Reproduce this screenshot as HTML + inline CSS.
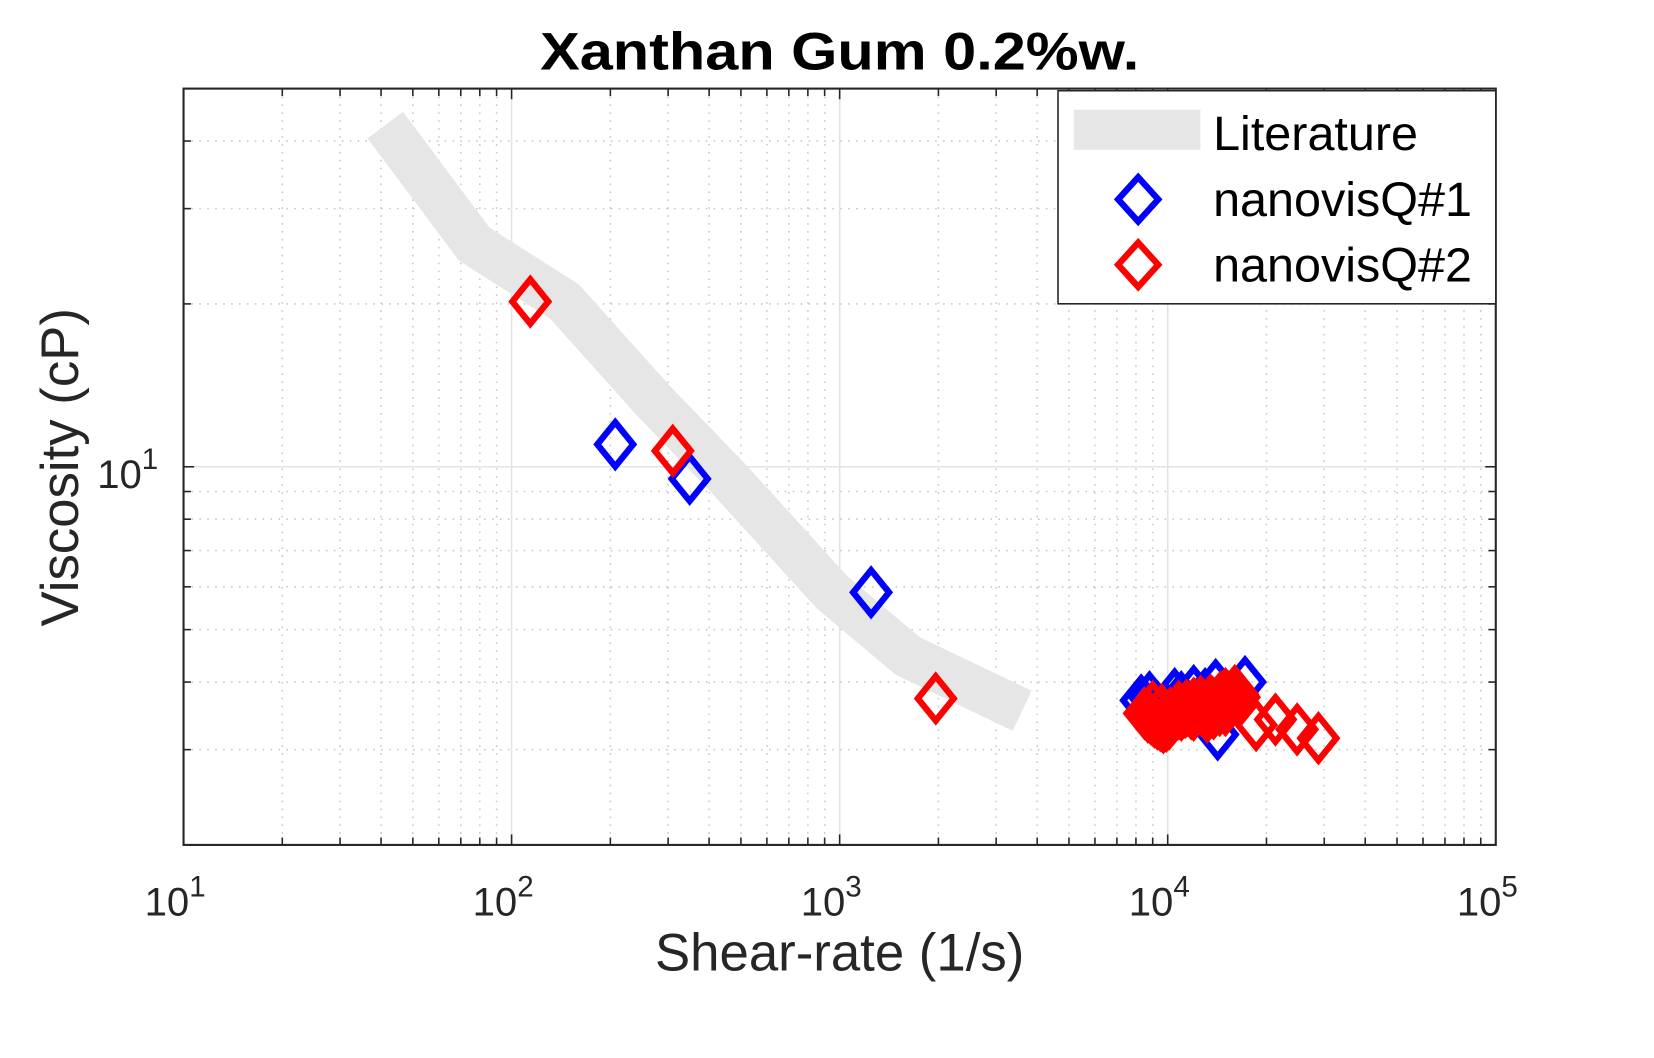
<!DOCTYPE html>
<html><head><meta charset="utf-8"><style>
html,body{margin:0;padding:0;background:#fff;}
svg{display:block;font-family:"Liberation Sans",sans-serif;}
</style></head><body>
<svg id="chart" width="1654" height="1058" viewBox="0 0 1568 1003" preserveAspectRatio="none" xmlns="http://www.w3.org/2000/svg">
<rect width="1568" height="1003" fill="#fff"/>
<g id="grid"></g>
<g id="lit"></g>
<g id="s1"></g>
<g id="s2"></g>
<g id="axes"></g>
<text x="512" y="66" font-size="50" font-weight="bold" textLength="568" lengthAdjust="spacingAndGlyphs">Xanthan Gum 0.2%w.</text>
<text x="796" y="920" font-size="50" text-anchor="middle" fill="#262626">Shear-rate (1/s)</text>
<text transform="translate(74,443) rotate(-90)" font-size="50" text-anchor="middle" fill="#262626">Viscosity (cP)</text>
<g id="legend">
<rect x="1003" y="86" width="415" height="202" fill="#fff" stroke="#262626" stroke-width="1.5"/>
<rect x="1018" y="104" width="120" height="38" fill="#e6e6e6"/>
<text x="1150" y="142" font-size="46" fill="#000">Literature</text>
<path d="M1079,168 L1098,189 L1079,210 L1060,189 Z" fill="none" stroke="#0000ff" stroke-width="6"/>
<text x="1150" y="205" font-size="46">nanovisQ#1</text>
<path d="M1079,230 L1098,251 L1079,272 L1060,251 Z" fill="none" stroke="#ff0000" stroke-width="6"/>
<text x="1150" y="267" font-size="46">nanovisQ#2</text>
</g>
</svg>
<script>
const litX=[41.2,76.9,145,272,452,946,1612,3600];
const litY=[42.8,25.8,20.2,13.2,9.6,5.87,4.47,3.54];
const q1X=[207,349,1247,8300,8800,9300,10000,10500,11000,12000,13000,14000,14200,17200];
const q1Y=[11.0,9.5,5.86,3.7,3.75,3.6,3.55,3.8,3.75,3.85,3.8,3.95,3.2,4.0];
const q2X=[114,310,1963,8500,8700,8900,9100,9300,9500,9700,9900,10100,10300,10500,10800,11000,11300,11500,11800,12000,12300,12500,12800,13000,13300,13500,13800,14000,14300,14500,14800,15000,15300,15500,15800,16000,16300,16500,9000,9600,10200,10800,11400,12000,12600,13200,13800,14400,15000,18600,21300,24800,28800];
const q2Y=[20.2,10.7,3.73,3.5,3.45,3.42,3.38,3.35,3.33,3.3,3.32,3.35,3.4,3.45,3.5,3.48,3.52,3.55,3.5,3.48,3.55,3.6,3.58,3.55,3.62,3.7,3.65,3.6,3.7,3.75,3.72,3.8,3.75,3.7,3.78,3.85,3.8,3.75,3.6,3.55,3.5,3.6,3.62,3.65,3.68,3.45,3.5,3.55,3.55,3.33,3.41,3.27,3.15];
const xTicks=[10,100,1000,10000,100000];
const xTickExp=['1','2','3','4','5'];
const yTicks=[10];
const yTickExp=['1'];
const X0=174,X1=1418,Y0=801,Y1=84,xmin=10,xmax=1e5,ymin=2,ymax=50;
const NS='http://www.w3.org/2000/svg';
function sx(v){return X0+(Math.log10(v)-Math.log10(xmin))/(Math.log10(xmax)-Math.log10(xmin))*(X1-X0);}
function sy(v){return Y0-(Math.log10(v)-Math.log10(ymin))/(Math.log10(ymax)-Math.log10(ymin))*(Y0-Y1);}
function mk(tag,attrs,parent){const e=document.createElementNS(NS,tag);for(const k in attrs)e.setAttribute(k,attrs[k]);parent.appendChild(e);return e;}
const grid=document.getElementById('grid'),axes=document.getElementById('axes');
for(let d=1;d<5;d++){for(let m=1;m<10;m++){const v=m*Math.pow(10,d);if(v<=xmin&&m!==1)continue;const x=sx(v);
 const major=(m===1);
 const g=mk('line',{x1:x,x2:x,y1:Y1,y2:Y0,stroke:major?'#e3e3e3':'#c8c8c8','stroke-width':1.5,'stroke-dasharray':major?'':'1.5 6'},grid);
 
 
 const L=major?10:7;
 const t1=mk('line',{x1:x,x2:x,y1:Y0,y2:Y0-L,stroke:'#262626','stroke-width':1.5},axes);
 
 
 const t2=mk('line',{x1:x,x2:x,y1:Y1,y2:Y1+L,stroke:'#262626','stroke-width':1.5},axes);
 
 
}}
for(let m=2;m<=50;m++){let v; if(m<10)v=m; else if(m%10===0)v=m; else continue; if(v<=ymin||v>=ymax)continue;const y=sy(v);
 const major=(v===10);
 const g=mk('line',{x1:X0,x2:X1,y1:y,y2:y,stroke:major?'#e3e3e3':'#c8c8c8','stroke-width':1.5,'stroke-dasharray':major?'':'1.5 6'},grid);
 
 
 const L=major?10:7;
 const t1=mk('line',{x1:X0,x2:X0+L,y1:y,y2:y,stroke:'#262626','stroke-width':1.5},axes);
 
 
 const t2=mk('line',{x1:X1,x2:X1-L,y1:y,y2:y,stroke:'#262626','stroke-width':1.5},axes);
 
 
}
const box=mk('rect',{x:X0,y:Y1,width:X1-X0,height:Y0-Y1,fill:'none',stroke:'#262626','stroke-width':2},axes);


xTicks.forEach((v,i)=>{const t=mk('text',{x:sx(v)-8,y:868,'font-size':38,'text-anchor':'middle',fill:'#262626'},axes);
 
 
 t.textContent='10';
 const s=mk('tspan',{dy:-18,'font-size':28},t);s.textContent=xTickExp[i];});
yTicks.forEach((v,i)=>{const t=mk('text',{x:150,y:sy(v)+20,'font-size':38,'text-anchor':'end',fill:'#262626'},axes);
 
 
 t.textContent='10';
 const s=mk('tspan',{dy:-18,'font-size':28},t);s.textContent=yTickExp[i];});
const lp=mk('polyline',{points:litX.map((v,i)=>sx(v)+','+sy(litY[i])).join(' '),fill:'none',stroke:'#e6e6e6','stroke-width':42,'stroke-linejoin':'round'},document.getElementById('lit'));


function diamonds(xs,ys,col,g,name){xs.forEach((v,i)=>{const x=sx(v),y=sy(ys[i]);
 const p=mk('path',{d:`M${x},${y-21} L${x+17},${y} L${x},${y+21} L${x-17},${y} Z`,fill:'none',stroke:col,'stroke-width':6},g);
 
 });}
diamonds(q1X,q1Y,'#0000ff',document.getElementById('s1'),'nanovisq1-point');
diamonds(q2X,q2Y,'#ff0000',document.getElementById('s2'),'nanovisq2-point');
</script>
</body></html>
